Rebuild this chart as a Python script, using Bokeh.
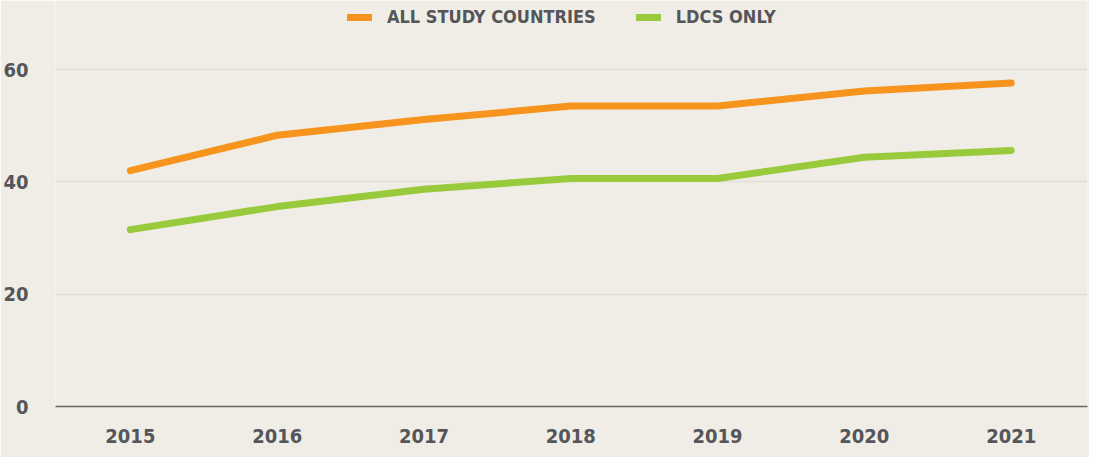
from bokeh.plotting import figure
from bokeh.models import FixedTicker, Legend, LegendItem, Range1d
from bokeh.embed import file_html
from bokeh.resources import INLINE

years = [2015, 2016, 2017, 2018, 2019, 2020, 2021]
all_study = [42.0, 48.3, 51.1, 53.5, 53.5, 56.2, 57.6]
ldcs_only = [31.5, 35.6, 38.7, 40.6, 40.6, 44.4, 45.6]
y_ticks = [0, 20, 40, 60]
series_names = ["ALL STUDY COUNTRIES", "LDCS ONLY"]

BG = "#f0ede6"
TXT = "#55565a"
FONT = "'DejaVu Sans Condensed', 'Roboto Condensed', Roboto, sans-serif"

p = figure(width=1089, height=457, output_backend="svg", toolbar_location=None,
           x_range=Range1d(2014.49, 2021.52), y_range=Range1d(0, 72.3),
           min_border_left=0, min_border_right=2, min_border_top=0, min_border_bottom=51)
p.background_fill_color = BG
p.border_fill_color = BG
p.outline_line_color = None

r1 = p.line(years, all_study, line_color="#f7941d", line_width=7, line_cap="round", line_join="round")
r2 = p.line(years, ldcs_only, line_color="#99ca3c", line_width=7, line_cap="round", line_join="round")

p.xaxis.ticker = FixedTicker(ticks=years)
p.yaxis.ticker = FixedTicker(ticks=y_ticks)
for ax in (p.xaxis, p.yaxis):
    ax.major_tick_line_color = None
    ax.minor_tick_line_color = None
    ax.major_tick_out = 0
    ax.major_tick_in = 0
    ax.minor_tick_out = 0
    ax.minor_tick_in = 0
    ax.major_label_text_font = FONT
    ax.major_label_text_font_style = "bold"
    ax.major_label_text_color = TXT
    ax.major_label_text_font_size = "20px"
p.yaxis.axis_line_color = None
p.yaxis.major_label_standoff = 27
p.xaxis.axis_line_color = "#666666"
p.xaxis.axis_line_width = 1.5
p.xaxis.major_label_standoff = 22

p.xgrid.grid_line_color = None
p.ygrid.grid_line_color = "#e3ded5"
p.ygrid.grid_line_width = 1.5

legend = Legend(items=[LegendItem(label=series_names[0], renderers=[r1]),
                       LegendItem(label=series_names[1], renderers=[r2])],
                location=(292, 379), orientation="horizontal")
legend.background_fill_alpha = 0
legend.border_line_color = None
legend.label_text_font = FONT
legend.label_text_font_style = "bold"
legend.label_text_color = TXT
legend.label_text_font_size = "18px"
legend.glyph_width = 25
legend.glyph_height = 20
legend.label_standoff = 15
legend.spacing = 40
legend.margin = 0
legend.padding = 0
p.add_layout(legend, "center")

open("out.html", "w").write(file_html(p, INLINE))
